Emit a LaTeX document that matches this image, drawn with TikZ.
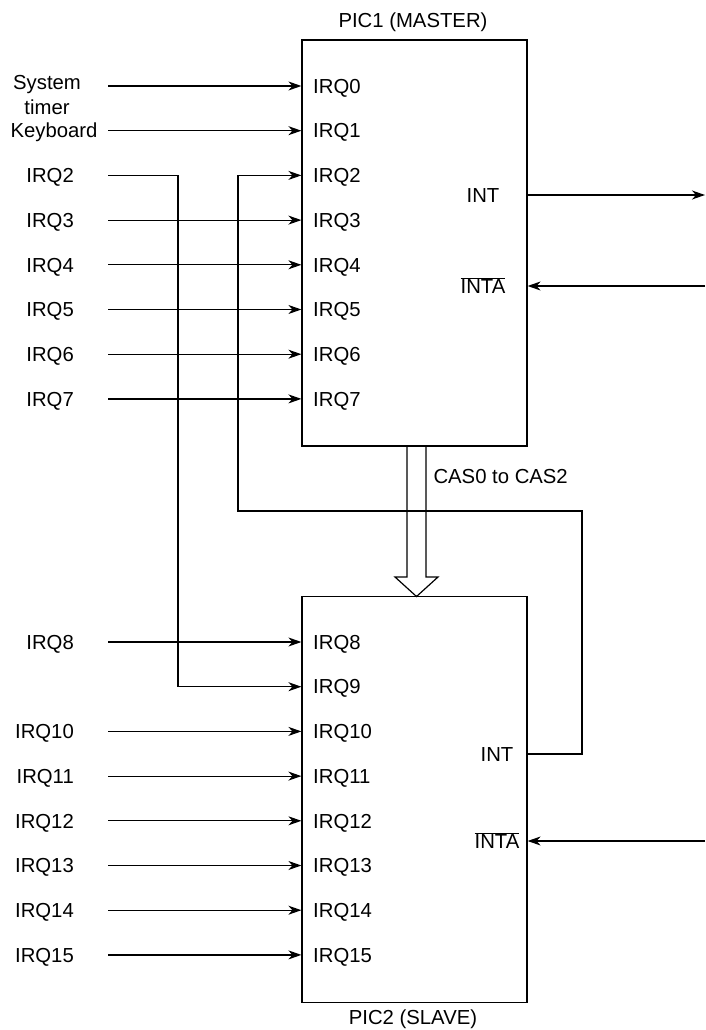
\documentclass[tikz,border=0pt]{standalone}
\usepackage{fontspec}
\setmainfont{Liberation Sans}
\usetikzlibrary{arrows.meta,calc}

\begin{document}
\begin{tikzpicture}[
  x=1pt, y=-1pt,
  font=\fontsize{20.3}{25}\selectfont,
  sig/.style={-{Stealth[length=13pt,width=9pt,inset=4pt]}, line width=1.2pt},
  wire/.style={line width=1.2pt},
  pic/.style={draw, line width=1.2pt, minimum width=225pt, minimum height=406pt, inner sep=0pt},
  lbl/.style={text height=14.5pt, text depth=0pt},
  pin/.style={lbl, anchor=west, inner sep=0pt},
  src/.style={lbl, anchor=east, inner sep=0pt}
]
\useasboundingbox (0,0) rectangle (706,1030);

\def\dy{44.7}
\def\mfirst{86}
\def\sfirst{642}
\def\srcx{108}
\def\casx{416.5}

% The two controllers.
\node[pic] (master) at (414.5,243) {};
\node[pic] (slave) at (414.5,799.5) {};
\node (mtitle) at (413,22) {PIC1 (MASTER)};
\node (stitle) at (413,1019) {PIC2 (SLAVE)};

% Request pins.
\foreach \i in {0,...,7}
  \node[pin] (m\i) at (313,{\mfirst+\i*\dy}) {IRQ\i};
\foreach \i in {8,...,15}
  \node[pin] (s\i) at (313,{\sfirst+(\i-8)*\dy}) {IRQ\i};

% Sources on the left.
\node[align=center] (timer) at (47,95.5) {System\\timer};
\node[lbl] (kbd) at (54,{\mfirst+\dy}) {Keyboard};
\coordinate (from0) at (\srcx,\mfirst);
\coordinate (from1) at (\srcx,{\mfirst+\dy});
\draw[sig] (from0) -- (m0 -| master.west);
\draw[sig] (from1) -- (m1 -| master.west);
\foreach \i in {3,...,7}{
  \node[src] (in\i) at (74,{\mfirst+\i*\dy}) {IRQ\i};
  \coordinate (from\i) at (\srcx,{\mfirst+\i*\dy});
  \draw[sig] (from\i) -- (m\i -| master.west);
}
\foreach \i in {8,10,11,12,13,14,15}{
  \node[src] (in\i) at (74,{\sfirst+(\i-8)*\dy}) {IRQ\i};
  \coordinate (from\i) at (\srcx,{\sfirst+(\i-8)*\dy});
  \draw[sig] (from\i) -- (s\i -| slave.west);
}

% IRQ2 is moved to IRQ9 on the slave.
\node[src] (in2) at (74,{\mfirst+2*\dy}) {IRQ2};
\coordinate (from2) at (\srcx,{\mfirst+2*\dy});
\coordinate (bend2) at (178,{\mfirst+2*\dy});
\draw[sig] (from2) -- (bend2) |- (s9 -| slave.west);

% Outputs to the CPU.
\node[lbl] (mint) at (483,195) {INT};
\node[lbl] (minta) at (483,286) {$\overline{\hbox{INTA}}$};
\coordinate (cpuint) at (705,195);
\coordinate (cpuinta) at (705,286);
\draw[sig] (mint -| master.east) -- (cpuint);
\draw[sig] (cpuinta) -- (minta -| master.east);

\node[lbl] (sint) at (497,754) {INT};
\node[lbl] (sinta) at (497,841) {$\overline{\hbox{INTA}}$};
\coordinate (cpuinta2) at (705,841);
\draw[sig] (cpuinta2) -- (sinta -| slave.east);

% Slave INT cascaded into master IRQ2.
\coordinate (loopR) at (582,511);
\coordinate (loopL) at (238,511);
\draw[sig] (sint -| slave.east) -| (loopR) -- (loopL) |- (m2 -| master.west);

% Cascade bus.
\draw[wire] ({\casx-9.5},446) -- ({\casx-9.5},577) -- ({\casx-21.5},577)
  -- (\casx,596.5) -- ({\casx+21.5},577) -- ({\casx+9.5},577) -- ({\casx+9.5},446);
\node[lbl, anchor=west] (cas) at (430,476) {CAS0 to CAS2};

\end{tikzpicture}
\end{document}
